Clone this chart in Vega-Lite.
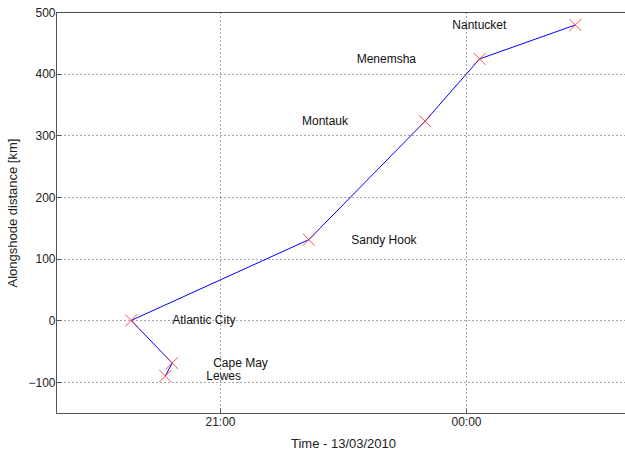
{
  "$schema": "https://vega.github.io/schema/vega-lite/v6.json",
  "autosize": "none",
  "padding": {"left": 56, "top": 12, "right": 0, "bottom": 41},
  "width": 574,
  "height": 401,
  "background": "white",
  "config": {
    "font": "Liberation Sans",
    "view": {"stroke": "#555", "strokeWidth": 1},
    "axis": {
      "labelFont": "Liberation Sans",
      "labelFontSize": 12,
      "labelColor": "#222",
      "titleFont": "Liberation Sans",
      "titleFontSize": 13,
      "titleFontWeight": "normal",
      "titleColor": "#222",
      "domainColor": "#555",
      "tickColor": "#555",
      "gridColor": "#222",
      "gridOpacity": 0.8,
      "gridDash": [1, 3],
      "gridWidth": 1
    }
  },
  "data": {
    "values": [
      {"station": "Lewes", "time": "2010-03-13T20:20:00", "distance": -90, "label_time": "2010-03-13T20:50:00"},
      {"station": "Cape May", "time": "2010-03-13T20:25:00", "distance": -69, "label_time": "2010-03-13T20:55:00"},
      {"station": "Atlantic City", "time": "2010-03-13T19:55:00", "distance": 0, "label_time": "2010-03-13T20:25:00"},
      {"station": "Sandy Hook", "time": "2010-03-13T22:05:00", "distance": 131, "label_time": "2010-03-13T22:36:00"},
      {"station": "Montauk", "time": "2010-03-13T23:30:00", "distance": 323, "label_time": "2010-03-13T22:00:00"},
      {"station": "Menemsha", "time": "2010-03-14T00:10:00", "distance": 424, "label_time": "2010-03-13T22:40:00"},
      {"station": "Nantucket", "time": "2010-03-14T01:20:00", "distance": 479, "label_time": "2010-03-13T23:50:00"}
    ]
  },
  "layer": [
    {
      "mark": {"type": "line", "color": "#0000ff", "strokeWidth": 1},
      "encoding": {
        "x": {
          "field": "time",
          "type": "temporal",
          "scale": {"domain": [{"year": 2010, "month": 3, "date": 13, "hours": 19}, {"year": 2010, "month": 3, "date": 14, "hours": 2}], "nice": false},
          "axis": {
            "title": "Time - 13/03/2010",
            "format": "%H:%M",
            "values": [{"year": 2010, "month": 3, "date": 13, "hours": 21}, {"year": 2010, "month": 3, "date": 14, "hours": 0}],
            "grid": true,
            "tickSize": -5,
            "labelPadding": 8,
            "titlePadding": 10,
            "labelFlush": false
          }
        },
        "y": {
          "field": "distance",
          "type": "quantitative",
          "scale": {"domain": [-150, 500], "nice": false, "zero": false},
          "axis": {
            "title": "Alongshode distance [km]",
            "values": [-100, 0, 100, 200, 300, 400, 500],
            "grid": true,
            "tickSize": -5,
            "labelPadding": 6,
            "titlePadding": 8,
            "labelFlush": false
          }
        },
        "order": {"field": "distance", "type": "quantitative"}
      }
    },
    {
      "mark": {"type": "point", "shape": "M-1,-1L1,1M1,-1L-1,1", "filled": false, "color": "#ff3333", "strokeWidth": 1, "size": 144, "opacity": 0.85},
      "encoding": {
        "x": {"field": "time", "type": "temporal"},
        "y": {"field": "distance", "type": "quantitative"}
      }
    },
    {
      "mark": {"type": "text", "align": "left", "baseline": "middle", "fontSize": 12, "color": "#111"},
      "encoding": {
        "x": {"field": "label_time", "type": "temporal"},
        "y": {"field": "distance", "type": "quantitative"},
        "text": {"field": "station"}
      }
    }
  ]
}
